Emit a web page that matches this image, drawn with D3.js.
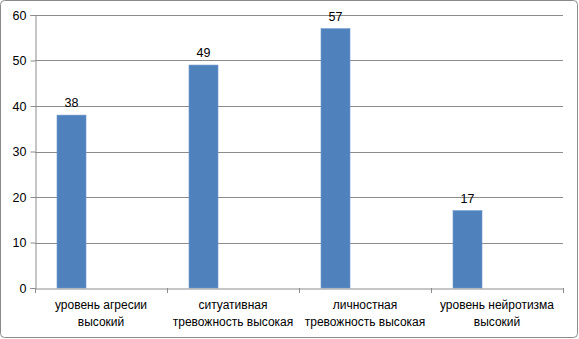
<!DOCTYPE html>
<html>
<head>
<meta charset="utf-8">
<script src="https://cdn.jsdelivr.net/npm/d3@7"></script>
<style>
  body { margin: 0; background: #fff; }
  text { font-family: "Liberation Sans", Arial, sans-serif; fill: #000; }
</style>
</head>
<body>
<svg id="chart"></svg>
<script>
// data
const categories = [
  "уровень агресии\nвысокий",
  "ситуативная\nтревожность высокая",
  "личностная\nтревожность высокая",
  "уровень нейротизма\nвысокий"
]
const values = [38, 49, 57, 17]
const yTicks = [0, 10, 20, 30, 40, 50, 60]

const width = 579
const height = 339
const margin = {top: 15, right: 16, bottom: 51, left: 35}

const svg = d3.select('#chart')
  .attr('width', width)
  .attr('height', height)

// outer frame
svg.append('rect')
  .attr('x', 0.5)
  .attr('y', 0.5)
  .attr('width', width - 2)
  .attr('height', height - 2)
  .attr('rx', 4)
  .attr('ry', 4)
  .attr('fill', '#fff')
  .attr('stroke', '#8a8a8a')

const x = d3.scaleBand()
  .domain(categories)
  .range([margin.left, width - margin.right])
  .padding(0)

const y = d3.scaleLinear()
  .domain([0, 60])
  .range([height - margin.bottom, margin.top])

const gridColor = '#8c8c8c'

// gridlines
svg.append('g').selectAll('line')
  .data(yTicks.filter(d => d > 0))
  .enter()
  .append('line')
  .attr('x1', margin.left)
  .attr('x2', width - margin.right)
  .attr('y1', d => Math.round(y(d)) + 0.5)
  .attr('y2', d => Math.round(y(d)) + 0.5)
  .attr('stroke', gridColor)

// y axis
const yAxis = d3.axisLeft(y)
  .tickValues(yTicks)
  .tickSize(5)
  .tickPadding(4)
  .tickFormat(d3.format('d'))

const yG = svg.append('g')
  .attr('transform', `translate(${margin.left + 0.5},0)`)
  .call(yAxis)
yG.select('.domain').attr('stroke', gridColor)
yG.selectAll('.tick line').attr('stroke', gridColor)
yG.selectAll('.tick text')
  .attr('font-size', '12.5px')
  .attr('font-family', '"Liberation Sans", Arial, sans-serif')
  .attr('fill', '#000')

// bars
const barOffset = x.bandwidth() * 22 / 132
const barWidth = x.bandwidth() * 29 / 132

svg.append('g').selectAll('rect')
  .data(values)
  .enter()
  .append('rect')
  .attr('x', (d, i) => x(categories[i]) + barOffset)
  .attr('y', d => y(d))
  .attr('width', barWidth)
  .attr('height', d => y(0) - y(d))
  .attr('fill', '#4f81bd')
  .attr('stroke', '#6f98cc')
  .attr('stroke-width', 0.6)

// value labels
svg.append('g').selectAll('text')
  .data(values)
  .enter()
  .append('text')
  .attr('x', (d, i) => x(categories[i]) + barOffset + barWidth / 2)
  .attr('y', d => y(d) - 8)
  .attr('text-anchor', 'middle')
  .attr('font-size', '12.5px')
  .text(d => d)

// x axis
const xAxis = d3.axisBottom(x)
  .tickSize(0)
  .tickFormat('')

const xG = svg.append('g')
  .attr('transform', `translate(0,${Math.round(y(0)) + 0.5})`)
  .call(xAxis)
xG.select('.domain').attr('stroke', gridColor)

// category separator ticks
svg.append('g').selectAll('line')
  .data(categories.map(c => x(c)).concat([width - margin.right]))
  .enter()
  .append('line')
  .attr('x1', d => Math.round(d) + 0.5)
  .attr('x2', d => Math.round(d) + 0.5)
  .attr('y1', Math.round(y(0)))
  .attr('y2', Math.round(y(0)) + 5)
  .attr('stroke', gridColor)

// category labels
const labelG = svg.append('g').selectAll('text')
  .data(categories)
  .enter()
  .append('text')
  .attr('text-anchor', 'middle')
  .attr('font-size', '12px')

labelG.selectAll('tspan')
  .data(d => d.split('\n').map(line => ({line, cat: d})))
  .enter()
  .append('tspan')
  .attr('x', d => x(d.cat) + x.bandwidth() / 2)
  .attr('y', (d, i) => y(0) + 21 + i * 17)
  .text(d => d.line)
</script>
</body>
</html>
